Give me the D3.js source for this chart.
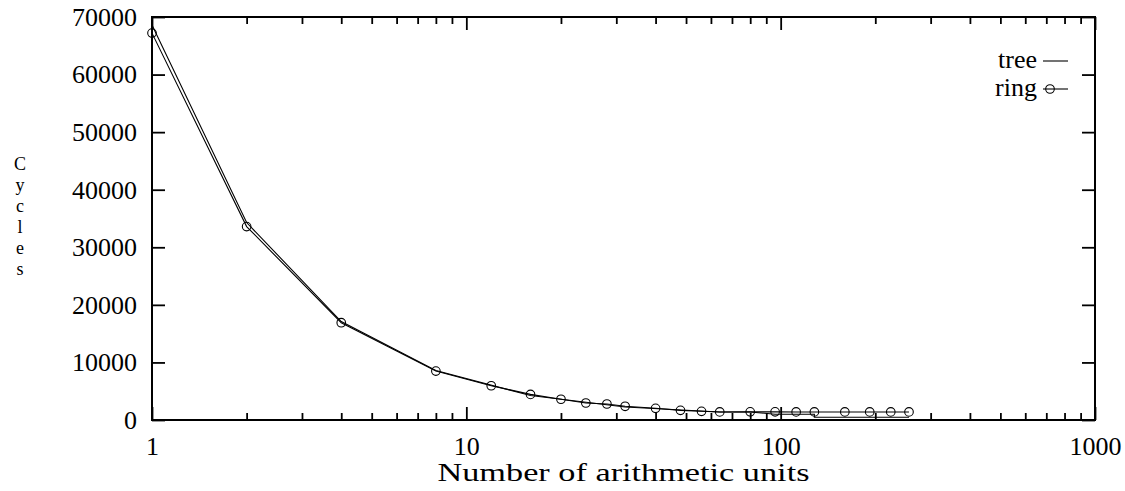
<!DOCTYPE html>
<html><head><meta charset="utf-8">
<script src="https://cdn.jsdelivr.net/npm/d3@7"></script>
<style>
body{margin:0;background:#fff;}
svg text{font-family:"Liberation Serif","DejaVu Serif",serif;fill:#000;}
</style></head>
<body><svg id="c" width="1125" height="491"></svg>
<script>
const treeX = [1,2,4,8,16,32,64,80,96,128,128,256];
const treeY = [68600,34300,17100,8600,4250,2250,1400,1400,1000,1000,480,480];
const ringX = [1,2,4,8,12,16,20,24,28,32,40,48,56,64,80,96,112,128,160,192,224,256];
const ringY = [67200,33600,16900,8500,5950,4450,3600,2950,2780,2380,2030,1680,1510,1400,1420,1420,1400,1400,1400,1400,1400,1400];
const xMajorTicks = [1,10,100,1000];
const xMinorTicks = [2,3,4,5,6,7,8,9,20,30,40,50,60,70,80,90,200,300,400,500,600,700,800,900];
const yTicks = [0,10000,20000,30000,40000,50000,60000,70000];
const xLabel = "Number of arithmetic units";
const yLabel = "Cycles";
const seriesNames = ["tree","ring"];

const L=152,R=1095,T=17,B=420;
const svg=d3.select("#c");
const x=d3.scaleLog().domain([1,1000]).range([L,R]);
const y=d3.scaleLinear().domain([0,70000]).range([B,T]);
const fs=26;

function styleAxis(g){g.select(".domain").remove();g.selectAll("line").attr("stroke","#000").attr("stroke-width",1.8);g.selectAll("text").style("font-size",fs+"px").style("font-family","Liberation Serif");}

// bottom major
svg.append("g").attr("transform",`translate(0,${B})`).call(d3.axisBottom(x).tickValues(xMajorTicks).tickFormat(d3.format("d")).tickSize(-13).tickPadding(17)).call(styleAxis);
svg.append("g").attr("transform",`translate(0,${B})`).call(d3.axisBottom(x).tickValues(xMinorTicks).tickFormat("").tickSize(-7)).call(styleAxis);
// top
svg.append("g").attr("transform",`translate(0,${T})`).call(d3.axisTop(x).tickValues(xMajorTicks).tickFormat("").tickSize(-13)).call(styleAxis);
svg.append("g").attr("transform",`translate(0,${T})`).call(d3.axisTop(x).tickValues(xMinorTicks).tickFormat("").tickSize(-7)).call(styleAxis);
// left
svg.append("g").attr("transform",`translate(${L},0)`).call(d3.axisLeft(y).tickValues(yTicks).tickFormat(d3.format("d")).tickSize(-13).tickPadding(15)).call(styleAxis);
// right
svg.append("g").attr("transform",`translate(${R},0)`).call(d3.axisRight(y).tickValues(yTicks).tickFormat("").tickSize(-13)).call(styleAxis);

// frame
svg.append("rect").attr("x",L).attr("y",T).attr("width",R-L).attr("height",B-T).attr("fill","none").attr("stroke","#000").attr("stroke-width",2);

const line=d3.line().x(d=>x(d[0])).y(d=>y(d[1]));
const tree=treeX.map((v,i)=>[v,treeY[i]]);
const ring=ringX.map((v,i)=>[v,ringY[i]]);
svg.append("path").attr("d",line(tree)).attr("fill","none").attr("stroke","#000").attr("stroke-width",1.1);
svg.append("path").attr("d",line(ring)).attr("fill","none").attr("stroke","#000").attr("stroke-width",1.1);
svg.append("g").selectAll("circle").data(ring).join("circle").attr("cx",d=>x(d[0])).attr("cy",d=>y(d[1])).attr("r",4.3).attr("fill","none").attr("stroke","#000").attr("stroke-width",1.1);

// legend
const lg=svg.append("g");
lg.append("text").attr("x",1037).attr("y",68).attr("text-anchor","end").style("font-size",fs+"px").text(seriesNames[0]);
lg.append("line").attr("x1",1043).attr("x2",1068).attr("y1",61).attr("y2",61).attr("stroke","#000").attr("stroke-width",1.1);
lg.append("text").attr("x",1037).attr("y",96).attr("text-anchor","end").style("font-size",fs+"px").text(seriesNames[1]);
lg.append("line").attr("x1",1043).attr("x2",1068).attr("y1",89).attr("y2",89).attr("stroke","#000").attr("stroke-width",1.1);
lg.append("circle").attr("cx",1050).attr("cy",89).attr("r",4.3).attr("fill","none").attr("stroke","#000").attr("stroke-width",1.1);

// x label
svg.append("text").attr("x",(L+R)/2).attr("y",481).attr("text-anchor","middle").style("font-size","25px")
  .attr("textLength",372).attr("lengthAdjust","spacingAndGlyphs").text(xLabel);
// y label stacked
yLabel.split("").forEach((ch,i)=>{
  svg.append("text").attr("text-anchor","middle").style("font-size","18px").attr("x",20).attr("y",170+i*21).text(ch);
});
</script></body></html>
